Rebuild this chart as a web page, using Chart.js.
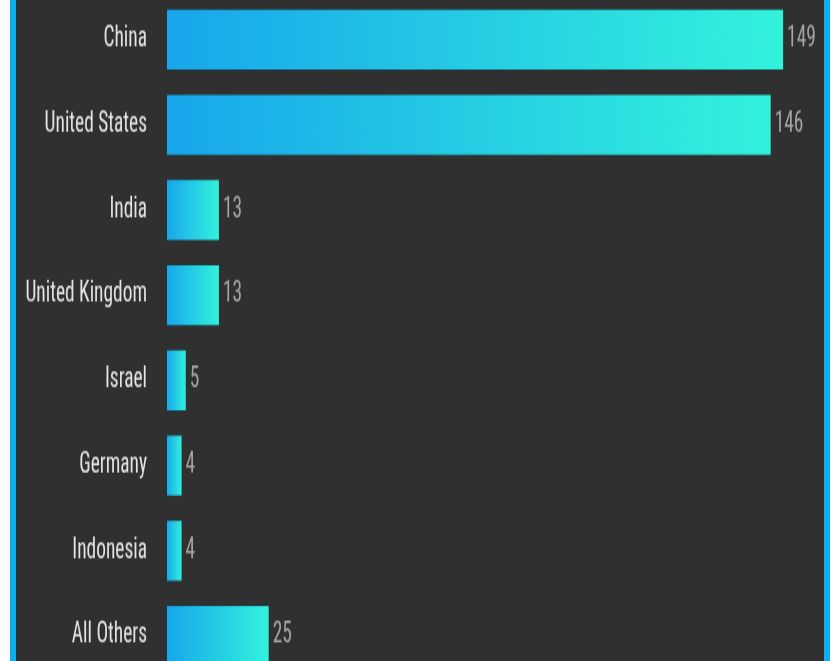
<!DOCTYPE html>
<html>
<head>
<meta charset="utf-8">
<script src="https://cdn.jsdelivr.net/npm/chart.js@4/dist/chart.umd.min.js"></script>
<style>
  html, body { margin: 0; padding: 0; background: #ffffff; overflow: hidden; }
  body { width: 831px; height: 661px; position: relative; }
  #frame { position: absolute; left: 10px; top: -20px; width: 808px; height: 720px;
           background: #303030; border-left: 6px solid #10aeee; border-right: 6px solid #10aeee; }
  #c { position: absolute; left: 16px; top: -3px; transform: scaleY(1.45); transform-origin: 0 0; }
</style>
</head>
<body>
<div id="frame"></div>
<canvas id="c" width="808" height="470"></canvas>
<script>
const categories = ["China", "United States", "India", "United Kingdom", "Israel", "Germany", "Indonesia", "All Others"];
const values = [149, 146, 13, 13, 5, 4, 4, 25];
const xMax = 155;

const FONT = "'Roboto Condensed', 'Liberation Sans Narrow', 'DejaVu Sans Condensed', 'Roboto', sans-serif";
const FONT_SIZE = 19.4;

function barGradient(ctx) {
  const chart = ctx.chart;
  const x = chart.scales && chart.scales.x;
  if (!x || ctx.dataIndex === undefined) return '#1aa8ec';
  const x0 = x.getPixelForValue(0);
  const x1 = x.getPixelForValue(values[ctx.dataIndex]);
  if (!isFinite(x0) || !isFinite(x1) || x1 <= x0) return '#1aa8ec';
  const g = chart.ctx.createLinearGradient(x0, 0, x1, 0);
  g.addColorStop(0, '#18a6ec');
  g.addColorStop(1, '#33f3dc');
  return g;
}

const valueLabels = {
  id: 'valueLabels',
  afterDatasetsDraw(chart) {
    const ctx = chart.ctx;
    const meta = chart.getDatasetMeta(0);
    ctx.save();
    ctx.font = FONT_SIZE + "px " + FONT;
    ctx.fillStyle = '#a6a6a6';
    ctx.textAlign = 'left';
    ctx.textBaseline = 'middle';
    meta.data.forEach((el, i) => {
      ctx.fillText(String(values[i]), el.x + 3, el.y);
    });
    ctx.restore();
  }
};

new Chart(document.getElementById('c'), {
  type: 'bar',
  data: {
    labels: categories,
    datasets: [{
      data: values,
      backgroundColor: barGradient,
      borderColor: 'rgba(0,70,80,0.3)',
      borderWidth: 1,
      borderSkipped: false,
      barPercentage: 0.82,
      categoryPercentage: 0.9
    }]
  },
  options: {
    indexAxis: 'y',
    responsive: false,
    maintainAspectRatio: false,
    devicePixelRatio: 1,
    animation: false,
    layout: { padding: { left: 0, right: 15, top: 0, bottom: 0 } },
    plugins: { legend: { display: false }, tooltip: { enabled: false } },
    scales: {
      x: { display: false, min: 0, max: xMax },
      y: {
        grid: { display: false, drawTicks: false },
        border: { display: false },
        ticks: { color: '#e4e4e4', font: { family: FONT, size: FONT_SIZE }, padding: 19 },
        afterFit(s) { s.width = 150; s.paddingTop = 0; s.paddingBottom = 0; }
      }
    }
  },
  plugins: [valueLabels]
});
</script>
</body>
</html>
